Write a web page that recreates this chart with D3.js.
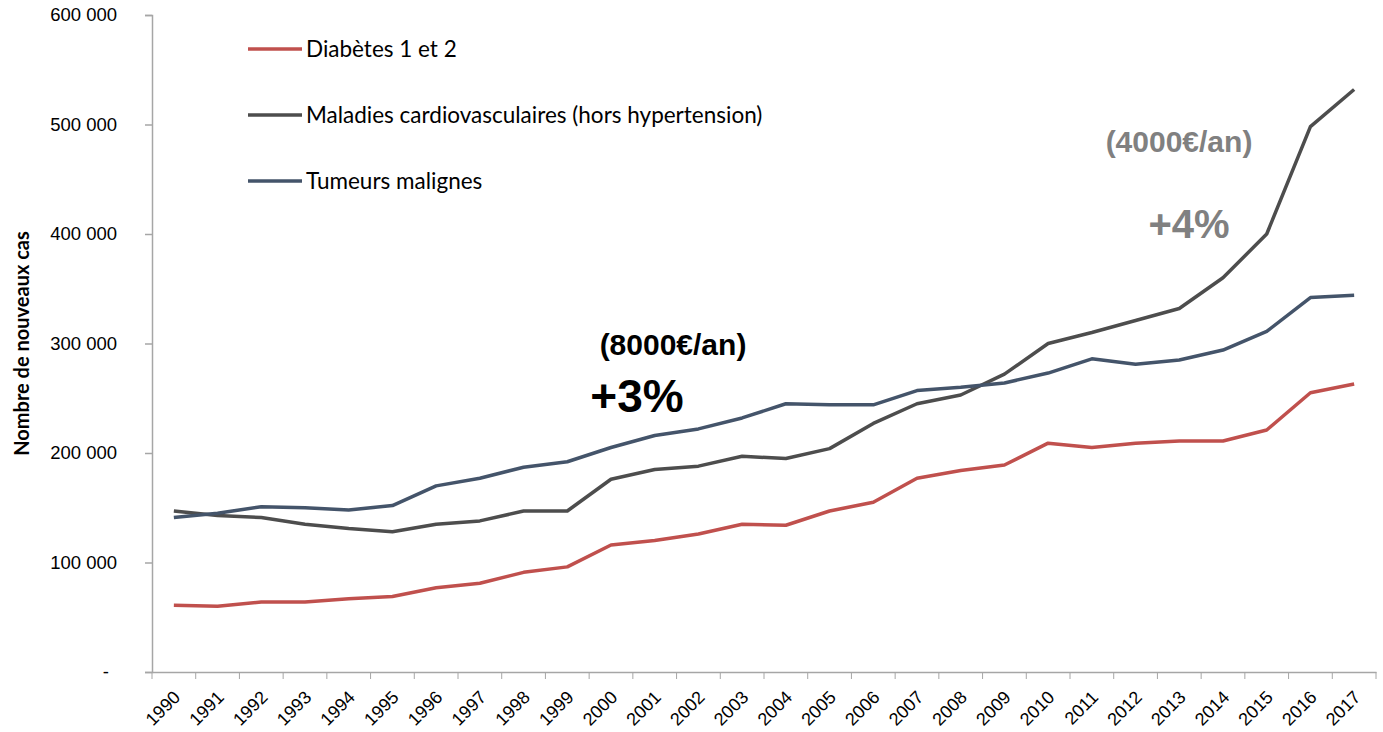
<!DOCTYPE html>
<html>
<head>
<meta charset="utf-8">
<script src="https://cdn.jsdelivr.net/npm/d3@7"></script>
<style>
  body { margin: 0; background: #fff; }
  svg { font-family: Lato, "Open Sans", sans-serif; }
</style>
</head>
<body>
<svg id="chart" width="1383" height="732"></svg>
<script>
// Data
const years = d3.range(1990, 2018);
const diabetes = [61, 60, 64, 64, 67, 69, 77, 81, 91, 96, 116, 120, 126, 135, 134, 147, 155, 177, 184, 189, 209, 205, 209, 211, 211, 221, 255, 263].map(v => v * 1000);
const cardio = [147, 143, 141, 135, 131, 128, 135, 138, 147, 147, 176, 185, 188, 197, 195, 204, 227, 245, 253, 272, 300, 310, 321, 332, 360, 400, 498, 532].map(v => v * 1000);
const tumeurs = [141, 145, 151, 150, 148, 152, 170, 177, 187, 192, 205, 216, 222, 232, 245, 244, 244, 257, 260, 264, 273, 286, 281, 285, 294, 311, 342, 344].map(v => v * 1000);
const seriesNames = ["Diabètes 1 et 2", "Maladies cardiovasculaires (hors hypertension)", "Tumeurs malignes"];
const seriesColors = ["#c0504d", "#4d4d4d", "#44546a"];
const yTicks = [0, 100000, 200000, 300000, 400000, 500000, 600000];

const svg = d3.select("#chart");
const plotLeft = 152, plotRight = 1376, plotTop = 15, plotBottom = 672;

const x = d3.scaleBand().domain(years).range([plotLeft, plotRight]);
const y = d3.scaleLinear().domain([0, 600000]).range([plotBottom, plotTop]);

// y axis
const fmt = v => v === 0 ? "-" : d3.format(",")(v).replace(/,/g, " ");
const yAxis = svg.append("g")
  .attr("transform", `translate(${plotLeft},0)`)
  .call(d3.axisLeft(y).tickValues(yTicks).tickSize(7).tickPadding(28).tickFormat(fmt));
yAxis.selectAll("text").style("font-size", "18.5px").attr("fill", "#000");
yAxis.selectAll("text").filter(d => d === 0).attr("dx", -8);

// x axis
const xAxis = svg.append("g")
  .attr("transform", `translate(0,${plotBottom})`)
  .call(d3.axisBottom(x).tickSize(0).tickFormat(d => d));
xAxis.selectAll("text")
  .style("font-size", "18px").attr("fill", "#000")
  .attr("text-anchor", "end")
  .attr("x", 0).attr("y", 0).attr("dy", "0.35em")
  .attr("transform", "translate(3,22) rotate(-45)");
// ticks between categories
xAxis.selectAll(".sep")
  .data(d3.range(years.length + 1))
  .enter().append("line")
  .attr("x1", i => plotLeft + i * x.step())
  .attr("x2", i => plotLeft + i * x.step())
  .attr("y1", 0).attr("y2", 7)
  .attr("stroke", "#a6a6a6");

svg.selectAll(".domain, .tick line").attr("stroke", "#a6a6a6").attr("stroke-width", 1.5);

// y title
svg.append("text")
  .attr("transform", `translate(22,${(plotTop + plotBottom) / 2}) rotate(-90)`)
  .attr("text-anchor", "middle")
  .attr("dy", "0.35em")
  .style("font-size", "20px").style("font-weight", "bold")
  .text("Nombre de nouveaux cas");

// lines
const line = d3.line()
  .x((d, i) => x(years[i]) + x.bandwidth() / 2)
  .y(d => y(d));

[diabetes, cardio, tumeurs].forEach((s, i) => {
  svg.append("path")
    .datum(s)
    .attr("fill", "none")
    .attr("stroke", seriesColors[i])
    .attr("stroke-width", 3.5)
    .attr("stroke-linejoin", "round")
    .attr("d", line);
});

// legend
const legend = svg.append("g");
seriesNames.forEach((name, i) => {
  const ly = 49 + i * 66;
  legend.append("line")
    .attr("x1", 248).attr("x2", 302).attr("y1", ly).attr("y2", ly)
    .attr("stroke", seriesColors[i]).attr("stroke-width", 3.5);
  legend.append("text")
    .attr("x", 306).attr("y", ly).attr("dy", "0.35em")
    .style("font-size", "22.5px")
    .text(name);
});

// annotations
const ann = svg.append("g").style("font-family", "Arial, 'Liberation Sans', sans-serif").style("font-weight", "bold");
ann.append("text").attr("x", 673).attr("y", 355).attr("text-anchor", "middle")
  .style("font-size", "30px").attr("fill", "#000").text("(8000€/an)");
ann.append("text").attr("x", 637).attr("y", 412).attr("text-anchor", "middle")
  .style("font-size", "46px").attr("fill", "#000").text("+3%");
ann.append("text").attr("x", 1179).attr("y", 152).attr("text-anchor", "middle")
  .style("font-size", "30px").attr("fill", "#808080").text("(4000€/an)");
ann.append("text").attr("x", 1189).attr("y", 238).attr("text-anchor", "middle")
  .style("font-size", "40px").attr("fill", "#808080").text("+4%");
</script>
</body>
</html>
